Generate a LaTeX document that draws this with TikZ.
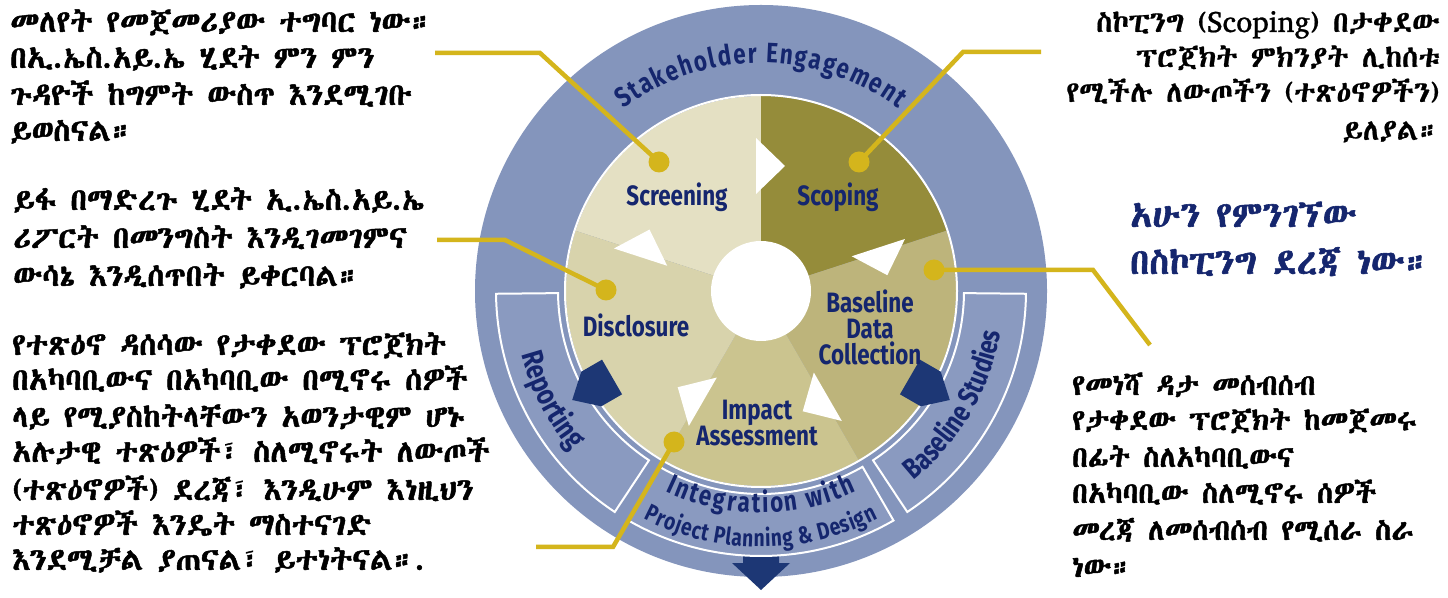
\documentclass[tikz,border=0pt]{standalone}
\usepackage{fontspec}
\usetikzlibrary{decorations.text}
\newcommand\defeth[1]{%
 \newfontfamily\eth{#1}[Script=Ethiopic,FakeBold=0.7]%
 \newfontfamily\ethb{#1}[Script=Ethiopic,FakeBold=1.6]}
\IfFontExistsTF{Abyssinica SIL}{\defeth{Abyssinica SIL}}{%
 \IfFontExistsTF{FreeSerif}{\defeth{FreeSerif}}{%
  \IfFontExistsTF{Noto Sans Ethiopic}{\defeth{Noto Sans Ethiopic}}{%
   \defeth{DejaVu Sans}}}}
\newfontfamily\lab{Fira Sans}[FakeStretch=0.8]
\definecolor{navy}{RGB}{21,38,110}
\definecolor{ringc}{RGB}{132,149,188}
\definecolor{bandc}{RGB}{138,154,192}
\definecolor{scr}{RGB}{228,224,195}
\definecolor{sco}{RGB}{149,140,58}
\definecolor{bas}{RGB}{189,180,123}
\definecolor{imp}{RGB}{203,196,143}
\definecolor{dis}{RGB}{216,211,172}
\definecolor{gold}{RGB}{212,181,28}
\definecolor{darkarrow}{RGB}{29,55,117}
\tikzset{
 dot/.style={circle,fill=gold,minimum size=21pt,inner sep=0pt},
 goldline/.style={draw=gold,line width=4.5pt},
 lbl/.style={font=\lab\bfseries\fontsize{28}{26}\selectfont,text=navy,align=center,inner sep=0pt},
 txtA/.style={font=\ethb\fontsize{31}{36}\selectfont,anchor=base west,inner sep=0pt},
 txtF/.style={font=\ethb\fontsize{29.5}{36}\selectfont,anchor=base west,inner sep=0pt},
 txtD/.style={font=\eth\fontsize{29.5}{36}\selectfont,anchor=base east,inner sep=0pt},
 txtE/.style={font=\ethb\fontsize{36}{40}\selectfont,text=navy,anchor=base west,inner sep=0pt},
 bandbox/.style={fill=bandc,draw=white,line width=2pt},
}
\begin{document}
\begin{tikzpicture}[x=1pt,y=1pt]
\useasboundingbox (0,0) rectangle (1448,597);
\fill[white] (0,0) rectangle (1448,597);
\begin{scope}[shift={(761,306)}]
 \fill[ringc] (0,0) circle (286);
 \fill[darkarrow] (-18,-250) -- (18,-250) -- (18,-272) -- (29,-272) -- (0,-299) -- (-29,-272) -- (-18,-272) -- cycle;
 \foreach \a/\b in {180.6/236.5, 240/300, 303.5/359.4} {
   \path[bandbox] (\a:203) arc[start angle=\a, end angle=\b, radius=203] -- (\b:265) arc[start angle=\b, end angle=\a, radius=265] -- cycle;
 }
 \foreach \a/\b/\c in {90/162/scr, 18/90/sco, -60/18/bas, -120/-60/imp, 162/240/dis} {
   \fill[\c] (0,0) -- (\a:195) arc[start angle=\a, end angle=\b, radius=195] -- cycle;
 }
 \draw[white, line width=2pt] (0,0) circle (196);
 \fill[white] (0,0) circle (50);
 \foreach \t in {90,18,-60,-120,162} {
   \fill[white,rotate=\t] (97,5) -- (153,5) -- (125,-24) -- cycle;
 }
 \foreach \t in {210,330} {
   \fill[darkarrow,rotate=\t] (172,-20) -- (196,-20) -- (218,0) -- (196,20) -- (172,20) -- cycle;
 }
 \path[decorate, decoration={text along path, text={|\lab\bfseries\fontsize{28}{28}\selectfont|Stakeholder Engagement}, text color=navy, text align=fit to path}] (127:228) arc[start angle=127, end angle=53, radius=228];
 \path[decorate, decoration={text along path, text={|\lab\bfseries\fontsize{30}{30}\selectfont|Reporting}, text color=navy, text align=center}] (180:248) arc[start angle=180, end angle=235, radius=248];
 \path[decorate, decoration={text along path, text={|\lab\bfseries\fontsize{29}{29}\selectfont|Baseline Studies}, text color=navy, text align=center}] (300:243) arc[start angle=300, end angle=359, radius=243];
 \path[decorate, decoration={text along path, text={|\lab\bfseries\fontsize{28}{28}\selectfont|Integration with}, text color=navy, text align=fit to path}] (244.6:222) arc[start angle=244.6, end angle=295.4, radius=222];
 \path[decorate, decoration={text along path, text={|\lab\bfseries\fontsize{24}{24}\selectfont|Project Planning {\&} Design}, text color=navy, text align=fit to path}] (242.8:256) arc[start angle=242.8, end angle=297.2, radius=256];
\end{scope}
% labels
\node[lbl] (lscr) at (677,400) {Screening};
\node[lbl] (lsco) at (838,400) {Scoping};
\node[lbl] (lbas) at (870,270) {Baseline\\Data\\Collection};
\node[lbl] (ldis) at (636,272) {Disclosure};
\node[lbl] (limp) at (757,174) {Impact\\Assessment};
% dots and leader lines
\node[dot] (d1) at (659,435) {};
\node[dot] (d2) at (859,435) {};
\node[dot] (d3) at (606,307) {};
\node[dot] (d4) at (934,327) {};
\node[dot] (d5) at (674,155) {};
\coordinate (d1a) at (540,544); \coordinate (d1b) at (435,544);
\coordinate (d2a) at (963,545); \coordinate (d2b) at (1041,545);
\coordinate (d3a) at (505,357); \coordinate (d3b) at (437,357);
\coordinate (d4a) at (1093,327); \coordinate (d4b) at (1150,252);
\coordinate (d5a) at (613,50); \coordinate (d5b) at (536,50);
\draw[goldline] (d1.center) -- (d1a) -- (d1b);
\draw[goldline] (d2.center) -- (d2a) -- (d2b);
\draw[goldline] (d3.center) -- (d3a) -- (d3b);
\draw[goldline] (d4.center) -- (d4a) -- (d4b);
\draw[goldline] (d5.center) -- (d5a) -- (d5b);
% text blocks
\node[txtA] (a1) at (10,565) {መለየት የመጀመሪያው ተግባር ነው።};
\node[txtA] (a2) at (10,529) {በኢ.ኤስ.አይ.ኤ ሂደት ምን ምን};
\node[txtA] (a3) at (10,492) {ጉዳዮች ከግምት ውስጥ እንደሚገቡ};
\node[txtA] (a4) at (10,456) {ይወስናል።};
\node[txtA] (b1) at (13,387) {ይፋ በማድረጉ ሂደት ኢ.ኤስ.አይ.ኤ};
\node[txtA] (b2) at (13,349) {ሪፖርት በመንግስት እንዲገመገምና};
\node[txtA] (b3) at (13,311) {ውሳኔ እንዲሰጥበት ይቀርባል።};
\node[txtA] (c1) at (12,242) {የተጽዕኖ ዳሰሳው የታቀደው ፕሮጀክት};
\node[txtA] (c2) at (12,207) {በአካባቢውና በአካባቢው በሚኖሩ ሰዎች};
\node[txtA] (c3) at (12,170) {ላይ የሚያስከትላቸውን አወንታዊም ሆኑ};
\node[txtA] (c4) at (12,135) {አሉታዊ ተጽዕዎች፣ ስለሚኖሩት ለውጦች};
\node[txtA] (c5) at (12,97) {(ተጽዕኖዎች) ደረጃ፣ እንዲሁም እነዚህን};
\node[txtA] (c6) at (12,62) {ተጽዕኖዎች እንዴት ማስተናገድ};
\node[txtA] (c7) at (12,27) {እንደሚቻል ያጠናል፣ ይተነትናል።.};
\node[txtD] (e1) at (1440,565) {ስኮፒንግ (Scoping) በታቀደው};
\node[txtD] (e2) at (1440,530) {ፕሮጀክት ምክንያት ሊከሰቱ};
\node[txtD] (e3) at (1440,495) {የሚችሉ ለውጦችን (ተጽዕኖዎችን)};
\node[txtD] (e4) at (1440,457) {ይለያል።};
\node[txtE] (n1) at (1130,370) {አሁን የምንገኘው};
\node[txtE] (n2) at (1130,323) {በስኮፒንግ ደረጃ ነው።};
\node[txtF] (f1) at (1072,202) {የመነሻ ዳታ መሰብሰብ};
\node[txtF] (f2) at (1072,167) {የታቀደው ፕሮጀክት ከመጀመሩ};
\node[txtF] (f3) at (1072,130) {በፊት ስለአካባቢውና};
\node[txtF] (f4) at (1072,94) {በአካባቢው ስለሚኖሩ ሰዎች};
\node[txtF] (f5) at (1072,57) {መረጃ ለመሰብሰብ የሚሰራ ስራ};
\node[txtF] (f6) at (1072,20) {ነው።};
\end{tikzpicture}
\end{document}
